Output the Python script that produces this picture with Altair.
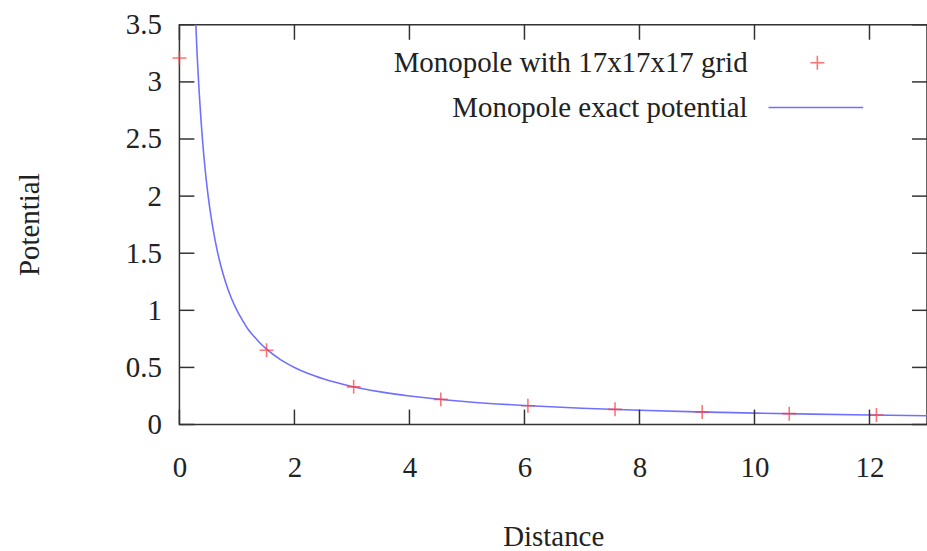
import altair as alt
import pandas as pd

# --- data ---
grid_x = [0, 1.515, 3.03, 4.545, 6.06, 7.575, 9.09, 10.605, 12.12]
grid_y = [3.21, 0.65, 0.33, 0.22, 0.165, 0.133, 0.11, 0.095, 0.083]

exact_x = [0.27, 0.286, 0.3, 0.35, 0.4, 0.45, 0.5, 0.55, 0.6, 0.65, 0.7, 0.8, 0.9, 1.0,
           1.1, 1.2, 1.3, 1.4, 1.5, 1.75, 2.0, 2.25, 2.5, 3.0, 3.5, 4.0, 5.0, 6.0, 7.0,
           8.0, 9.0, 10.0, 11.0, 12.0, 13.0]
exact_y = [3.7, 3.5, 3.33, 2.86, 2.5, 2.22, 2.0, 1.82, 1.67, 1.54, 1.43, 1.25, 1.11, 1.0,
           0.91, 0.83, 0.77, 0.714, 0.667, 0.571, 0.5, 0.444, 0.4, 0.333, 0.286, 0.25,
           0.2, 0.167, 0.143, 0.125, 0.111, 0.1, 0.091, 0.083, 0.077]

x_ticks = [0, 2, 4, 6, 8, 10, 12]
y_ticks = [0, 0.5, 1, 1.5, 2, 2.5, 3, 3.5]
legend_labels = ["Monopole with 17x17x17 grid", "Monopole exact potential"]

W, H = 750, 401
FONT = "Liberation Serif"
FS = 29
AX = "#333333"
BLUE = "#7070ff"
RED = "#ff3b3b"
TL = 15

grid_df = pd.DataFrame({"x": grid_x, "y": grid_y})
exact_df = pd.DataFrame({"x": exact_x, "y": exact_y})
xt_df = pd.DataFrame({"x": x_ticks})
yt_df = pd.DataFrame({"y": y_ticks})

xs = alt.Scale(domain=[0, 13], nice=False, zero=False)
ys = alt.Scale(domain=[0, 3.5], nice=False, zero=False)

x_axis = alt.Axis(values=x_ticks, ticks=False, domain=False, grid=False,
                  labelFont=FONT, labelFontSize=FS, labelColor="#222",
                  labelPadding=43, labelBaseline="middle", labelFlush=False,
                  title="Distance", titleFont=FONT, titleFontSize=FS,
                  titleFontWeight="normal", titleColor="#222",
                  titleX=375, titleY=112, titleBaseline="middle", titleAlign="center")
y_axis = alt.Axis(values=y_ticks, ticks=False, domain=False, grid=False,
                  labelFont=FONT, labelFontSize=FS, labelColor="#222",
                  labelPadding=18, labelBaseline="middle", labelFlush=False,
                  format="~g",
                  title="Potential", titleFont=FONT, titleFontSize=FS,
                  titleFontWeight="normal", titleColor="#222",
                  titleX=-150, titleY=200, titleBaseline="middle", titleAlign="center",
                  titleAngle=-90)

X = lambda: alt.X("x:Q", scale=xs, axis=x_axis)
Y = lambda: alt.Y("y:Q", scale=ys, axis=y_axis)

line = alt.Chart(exact_df).mark_line(color=BLUE, strokeWidth=1.6, clip=True,
                                     interpolate="monotone").encode(x=X(), y=Y())

plus = "M-1,0L1,0M0,-1L0,1"
points = alt.Chart(grid_df).mark_point(shape=plus, filled=False, color=RED,
                                       strokeWidth=1.6, size=196).encode(x=X(), y=Y())

tick_style = dict(color=AX, strokeWidth=1.5)
bottom_ticks = alt.Chart(xt_df).mark_rule(**tick_style).encode(
    x=X(), y=alt.value(H - TL), y2=alt.value(H))
top_ticks = alt.Chart(xt_df).mark_rule(**tick_style).encode(
    x=X(), y=alt.value(0), y2=alt.value(TL))
left_ticks = alt.Chart(yt_df).mark_rule(**tick_style).encode(
    y=Y(), x=alt.value(0), x2=alt.value(TL))
right_ticks = alt.Chart(yt_df).mark_rule(**tick_style).encode(
    y=Y(), x=alt.value(W - TL), x2=alt.value(W))

leg1 = alt.Chart(pd.DataFrame({"label": [legend_labels[0]]})).mark_text(
    font=FONT, fontSize=FS, color="#222", align="right", baseline="middle").encode(
    text="label:N", x=alt.value(570), y=alt.value(38))
leg2 = alt.Chart(pd.DataFrame({"label": [legend_labels[1]]})).mark_text(
    font=FONT, fontSize=FS, color="#222", align="right", baseline="middle").encode(
    text="label:N", x=alt.value(570), y=alt.value(83))
leg_plus = alt.Chart(pd.DataFrame({"label": [legend_labels[0]]})).mark_point(
    shape=plus, filled=False, color=RED, strokeWidth=1.6, size=196).encode(
    x=alt.value(640), y=alt.value(38))
leg_line = alt.Chart(pd.DataFrame({"label": [legend_labels[1]]})).mark_rule(
    color=BLUE, strokeWidth=1.6).encode(
    x=alt.value(591), x2=alt.value(686), y=alt.value(83))

chart = alt.layer(
    line, points, bottom_ticks, top_ticks, left_ticks, right_ticks,
    leg1, leg2, leg_plus, leg_line
).properties(
    width=W, height=H,
    autosize=alt.AutoSizeParams(type="none"),
    padding={"left": 180, "top": 24, "right": 0, "bottom": 126},
    background="white",
).configure_view(stroke=AX, strokeWidth=1.5)

chart.save("out.html", embed_options={"renderer": "svg", "actions": False})
